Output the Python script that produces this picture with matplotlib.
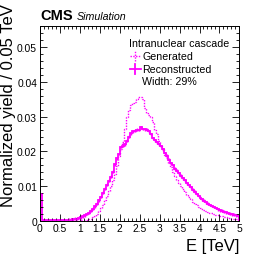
import numpy as np
import matplotlib
matplotlib.use("Agg")
import matplotlib.pyplot as plt
from matplotlib.ticker import MultipleLocator, FuncFormatter
from matplotlib.lines import Line2D

plt.rcParams['font.family'] = ['Liberation Sans', 'DejaVu Sans']

# 100 bins of 0.05 TeV from 0 to 5 TeV
bin_edges = np.linspace(0, 5, 101)

# generated energy (dotted)
gen = [0.0000] * 20 + [
    0.0001, 0.0001, 0.0002, 0.0003, 0.0004, 0.0006, 0.0009, 0.0013, 0.0019, 0.0027,
    0.0036, 0.0046, 0.0058, 0.0071, 0.0085, 0.0100, 0.0117, 0.0135, 0.0158, 0.0185,
    0.0205, 0.0226, 0.0265, 0.0300, 0.0318, 0.0332, 0.0338, 0.0342, 0.0350, 0.0356,
    0.0356, 0.0350, 0.0325, 0.0310, 0.0305, 0.0298, 0.0285, 0.0262, 0.0250, 0.0230,
    0.0216, 0.0205, 0.0190, 0.0180, 0.0167, 0.0154, 0.0141, 0.0129, 0.0118, 0.0108,
    0.0099, 0.0090, 0.0082, 0.0075, 0.0068, 0.0061, 0.0055, 0.0049, 0.0044, 0.0040,
    0.0036, 0.0033, 0.0030, 0.0027, 0.0025, 0.0023, 0.0021, 0.0019, 0.0017, 0.0015,
    0.0013, 0.0012, 0.0010, 0.0009, 0.0008, 0.0007, 0.0006, 0.0005, 0.0005, 0.0004,
]

# reconstructed energy (solid, with errors)
rec = [
    0.0077, 0.0002, 0.0001, 0.0001, 0.0001, 0.0001, 0.0001, 0.0001, 0.0001, 0.0001,
    0.0002, 0.0002, 0.0002, 0.0002, 0.0003, 0.0003, 0.0004, 0.0005, 0.0006, 0.0008,
    0.0010, 0.0012, 0.0015, 0.0019, 0.0023, 0.0028, 0.0034, 0.0041, 0.0049, 0.0058,
    0.0068, 0.0080, 0.0092, 0.0103, 0.0115, 0.0127, 0.0141, 0.0162, 0.0180, 0.0192,
    0.0212, 0.0216, 0.0220, 0.0230, 0.0242, 0.0252, 0.0258, 0.0259, 0.0262, 0.0261,
    0.0269, 0.0264, 0.0263, 0.0262, 0.0258, 0.0250, 0.0238, 0.0232, 0.0226, 0.0220,
    0.0215, 0.0205, 0.0195, 0.0187, 0.0176, 0.0166, 0.0160, 0.0150, 0.0144, 0.0136,
    0.0129, 0.0122, 0.0116, 0.0108, 0.0102, 0.0096, 0.0089, 0.0083, 0.0077, 0.0071,
    0.0066, 0.0061, 0.0057, 0.0053, 0.0049, 0.0045, 0.0042, 0.0039, 0.0036, 0.0033,
    0.0030, 0.0028, 0.0026, 0.0024, 0.0022, 0.0020, 0.0018, 0.0017, 0.0015, 0.0013,
]
REC_ERR = 0.0004

col = '#ff00ff'

fig = plt.figure(figsize=(2.66, 2.55), dpi=100)
ax = fig.add_axes([0.150, 0.131, 0.750, 0.763])

centers = 0.5 * (bin_edges[:-1] + bin_edges[1:])
ax.stairs(gen, bin_edges, color=col, linestyle=(0, (1, 1)), linewidth=1.0)
ax.stairs(rec, bin_edges, color=col, linewidth=1.3)
ax.errorbar(centers, rec, xerr=0.025, yerr=REC_ERR, fmt='none', ecolor=col, elinewidth=1.0)

ax.set_xlim(0, 5)
ax.set_ylim(0, 0.0561)
ax.xaxis.set_major_locator(MultipleLocator(0.5))
ax.xaxis.set_minor_locator(MultipleLocator(0.1))
ax.yaxis.set_major_locator(MultipleLocator(0.01))
ax.yaxis.set_minor_locator(MultipleLocator(0.002))
ax.xaxis.set_major_formatter(FuncFormatter(lambda v, p: '%g' % v))
ax.yaxis.set_major_formatter(FuncFormatter(lambda v, p: '0' if v == 0 else '%.2f' % v))
ax.tick_params(which='both', direction='in', top=True, right=True, labelsize=7.4, width=0.6, pad=2)
ax.tick_params(which='major', length=5)
ax.tick_params(which='minor', length=2.5)
for s in ax.spines.values():
    s.set_linewidth(0.7)

fig.text(0.900, 0.005, 'E [TeV]', ha='right', va='bottom', fontsize=12)
fig.text(0.005, 0.985, 'Normalized yield / 0.05 TeV', rotation=90, ha='left', va='top', fontsize=12)

fig.text(0.150, 0.922, 'CMS', fontweight='bold', fontsize=10.5, ha='left', va='baseline')
fig.text(0.290, 0.922, 'Simulation', fontstyle='italic', fontsize=7.7, ha='left', va='baseline')

# legend
fig.text(0.485, 0.815, 'Intranuclear cascade', fontsize=7.7, ha='left', va='baseline')
fig.text(0.535, 0.765, 'Generated', fontsize=7.7, ha='left', va='baseline')
fig.text(0.535, 0.714, 'Reconstructed', fontsize=7.7, ha='left', va='baseline')
fig.text(0.535, 0.665, 'Width: 29%', fontsize=7.7, ha='left', va='baseline')
for yy, ls, lw in [(0.775, (0, (1, 1)), 1.0), (0.724, '-', 1.3)]:
    fig.add_artist(Line2D([0.487, 0.530], [yy, yy], color=col, linestyle=ls, linewidth=lw))
    fig.add_artist(Line2D([0.5085, 0.5085], [yy - 0.02, yy + 0.02], color=col, linestyle=ls, linewidth=lw))

fig.savefig('out.png', dpi=100)
